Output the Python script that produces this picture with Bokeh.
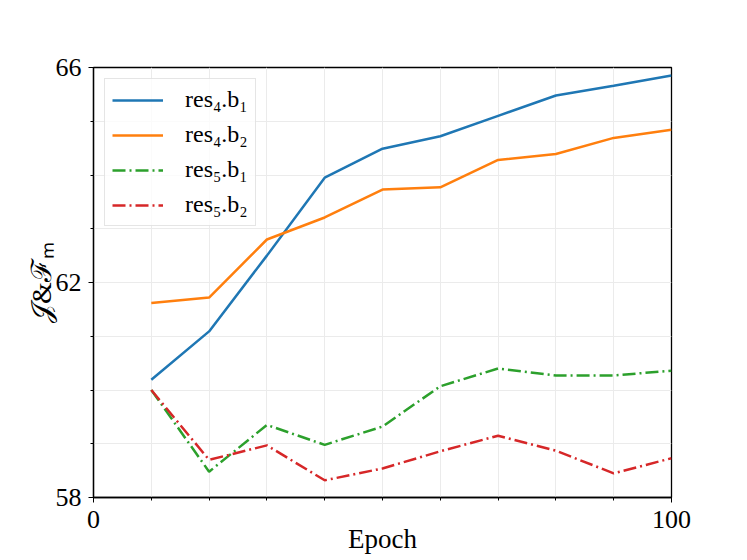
from bokeh.plotting import figure
from bokeh.models import Range1d, FixedTicker, Legend, LegendItem
from bokeh.embed import file_html
from bokeh.resources import INLINE

epochs = [10, 20, 30, 40, 50, 60, 70, 80, 90, 100]
res4_b1 = [60.19, 61.09, 62.50, 63.95, 64.49, 64.72, 65.10, 65.48, 65.66, 65.85]
res4_b2 = [61.62, 61.72, 62.80, 63.21, 63.73, 63.77, 64.28, 64.39, 64.69, 64.84]
res5_b1 = [60.00, 58.48, 59.35, 58.98, 59.32, 60.07, 60.40, 60.27, 60.27, 60.36]
res5_b2 = [60.00, 58.70, 58.97, 58.32, 58.54, 58.86, 59.15, 58.87, 58.45, 58.73]

x_major = [0, 100]
x_minor = [10, 20, 30, 40, 50, 60, 70, 80, 90]
y_major = [58, 62, 66]
y_minor = [59, 60, 61, 63, 64, 65]

FONT = "Liberation Serif"

p = figure(width=731, height=556, output_backend="svg", toolbar_location=None,
           x_range=Range1d(0, 100), y_range=Range1d(58, 66),
           min_border_left=93, min_border_right=60, min_border_top=67, min_border_bottom=59)

p.background_fill_color = "white"
p.border_fill_color = "white"
p.outline_line_color = "black"
p.outline_line_width = 1.3

p.xaxis.ticker = FixedTicker(ticks=x_major, minor_ticks=x_minor)
p.yaxis.ticker = FixedTicker(ticks=y_major, minor_ticks=y_minor)

for ax in (p.xaxis[0], p.yaxis[0]):
    ax.axis_line_color = "black"
    ax.axis_line_width = 1.3
    ax.major_tick_in = 0
    ax.major_tick_out = 5
    ax.minor_tick_in = 0
    ax.minor_tick_out = 3
    ax.major_tick_line_color = "black"
    ax.minor_tick_line_color = "black"
    ax.major_label_text_font = FONT
    ax.major_label_text_font_size = "26px"
    ax.major_label_text_color = "black"
    ax.axis_label_text_font = FONT
    ax.axis_label_text_font_style = "normal"
    ax.axis_label_text_color = "black"

p.xaxis.axis_label = "Epoch"
p.xaxis.axis_label_text_font_size = "27px"
p.xaxis.major_label_standoff = 8
p.xaxis.axis_label_standoff = -7
p.yaxis.axis_label = "\U0001D4A5&\u2131\u2098"
p.yaxis.axis_label_text_font_size = "28px"
p.yaxis.major_label_standoff = 7
p.yaxis.axis_label_standoff = -4

for g in (p.xgrid[0], p.ygrid[0]):
    g.grid_line_color = "#ebebeb"
    g.grid_line_width = 1
    g.minor_grid_line_color = "#ebebeb"
    g.minor_grid_line_width = 1

r1 = p.line(epochs, res4_b1, line_color="#1f77b4", line_width=2.5)
r2 = p.line(epochs, res4_b2, line_color="#ff7f0e", line_width=2.5)
r3 = p.line(epochs, res5_b1, line_color="#2ca02c", line_width=2.5, line_dash="13 4 2 4")
r4 = p.line(epochs, res5_b2, line_color="#d62728", line_width=2.5, line_dash="13 4 2 4")

legend = Legend(items=[
    LegendItem(label="res\u2084.b\u2081", renderers=[r1]),
    LegendItem(label="res\u2084.b\u2082", renderers=[r2]),
    LegendItem(label="res\u2085.b\u2081", renderers=[r3]),
    LegendItem(label="res\u2085.b\u2082", renderers=[r4]),
], location="top_left")
legend.label_text_font = FONT
legend.label_text_font_size = "24px"
legend.label_text_color = "black"
legend.glyph_width = 51
legend.glyph_height = 20
legend.label_standoff = 22
legend.spacing = 8
legend.padding = 7
legend.margin = 11
legend.border_line_color = "#cccccc"
legend.border_line_width = 1.2
legend.background_fill_alpha = 0.8
p.add_layout(legend, "center")

open("out.html", "w").write(file_html(p, INLINE))
